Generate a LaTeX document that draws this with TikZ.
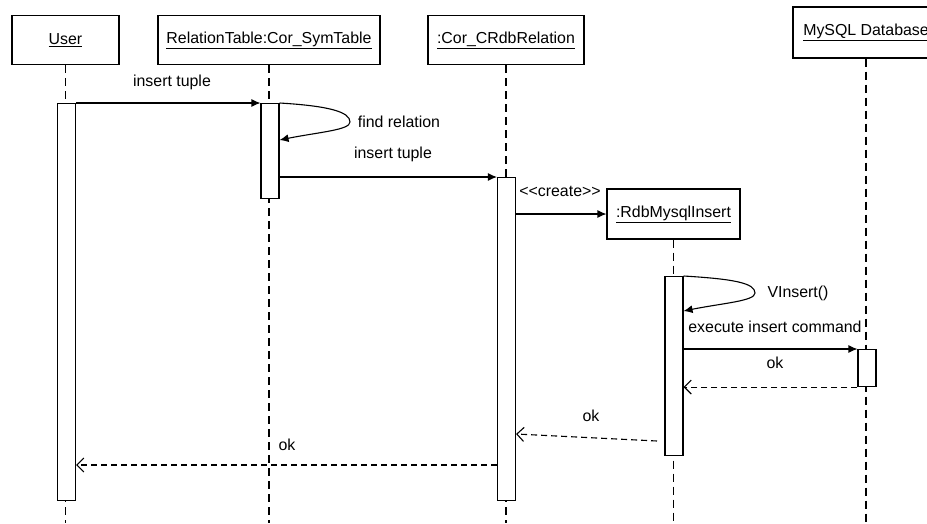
\documentclass[tikz,border=0pt]{standalone}
\usepackage{fontspec}
\setmainfont{Liberation Sans}
\usetikzlibrary{arrows.meta,calc}
\begin{document}
\begin{tikzpicture}[x=1pt,y=-1pt,
  every node/.style={font=\fontsize{15.9}{18}\selectfont},
  objbox/.style={draw,line width=1.1pt,fill=white,minimum height=49pt,inner sep=0pt},
  lifeline/.style={line width=1.1pt,dash pattern=on 8pt off 5pt},
  actbar/.style={draw,fill=white,line width=1.1pt,minimum width=18pt,inner sep=0pt,anchor=north},
  callmsg/.style={line width=1.1pt,-{Latex[length=9pt,width=8pt]}},
  retmsg/.style={line width=1.1pt,dash pattern=on 6pt off 4pt,-{Straight Barb[length=7pt,width=14pt,line width=1.1pt]}},
  lbl/.style={inner sep=0pt}
]
\useasboundingbox (0,0) rectangle (927,523);
\clip (0,0) rectangle (927,523);

% object heads
\node[objbox,minimum width=107pt] (user) at (65.5,40) {\underline{User}};
\node[objbox,minimum width=222pt] (reltab) at (269,40) {\underline{RelationTable:Cor\_SymTable}};
\node[objbox,minimum width=156pt] (crdb) at (506,40) {\underline{:Cor\_CRdbRelation}};
\node[objbox,minimum width=146pt,minimum height=51pt] (mysql) at (866,32.5) {\underline{MySQL Database}};
\node[objbox,minimum width=133pt,minimum height=50pt] (rdb) at (673.5,214) {\underline{:RdbMysqlInsert}};

% lifelines
\draw[lifeline] (user.south) -- (user.south |- 0,523);
\draw[lifeline] (reltab.south) -- (reltab.south |- 0,523);
\draw[lifeline] (crdb.south) -- (crdb.south |- 0,523);
\draw[lifeline] (rdb.south) -- (rdb.south |- 0,523);
\draw[lifeline] (mysql.south) -- (mysql.south |- 0,523);

% activation bars
\node[actbar,minimum height=397pt] (uact) at (66.5,103) {};
\node[actbar,minimum height=95pt] (ract) at (270,103) {};
\node[actbar,minimum height=323pt] (cact) at (506.5,177) {};
\node[actbar,minimum height=179pt] (iact) at (674,276) {};
\node[actbar,minimum height=37pt] (mact) at (867,349) {};

% insert tuple (User -> RelationTable)
\draw[callmsg] (uact.north east) -- (ract.north west);
\node[lbl] (m1) at (172,82) {insert tuple};

% find relation (self call)
\coordinate (frtip) at (350,122);
\draw[callmsg] (ract.north east) .. controls +(50,3) and +(0,-10) .. (frtip)
  .. controls +(0,8) and +(40,-8) .. ($(ract.north east)+(0,37)$);
\node[lbl] (m2) at (399,122) {find relation};

% insert tuple (RelationTable -> Cor_CRdbRelation)
\draw[callmsg] ($(ract.north east)+(0,74)$) -- (cact.north west);
\node[lbl] (m3) at (393,154) {insert tuple};

% create
\draw[callmsg] (cact.east |- rdb.west) -- (rdb.west);
\node[lbl] (m4) at (560,191) {{<}{<}create{>}{>}};

% VInsert (self call)
\coordinate (vitip) at (755,293);
\draw[callmsg] (iact.north east) .. controls +(50,3) and +(0,-10) .. (vitip)
  .. controls +(0,8) and +(40,-8) .. ($(iact.north east)+(0,35)$);
\node[lbl] (m5) at (798,293) {VInsert()};

% execute insert command
\draw[callmsg] ($(iact.north east)+(0,73)$) -- (mact.north west);
\node[lbl] (m6) at (775,327) {execute insert command};

% returns
\draw[retmsg] (mact.south west) -- (iact.east |- mact.south west);
\node[lbl] (r1) at (775,363) {ok};

\coordinate (r2start) at (657,441);
\draw[retmsg] (r2start) -- ($(cact.north east)+(0,257)$);
\node[lbl] (r2) at (591,416) {ok};

\draw[retmsg] ($(cact.north west)+(0,288)$) -- (uact.east |- 0,465);
\node[lbl] (r3) at (287,445) {ok};
\end{tikzpicture}
\end{document}
